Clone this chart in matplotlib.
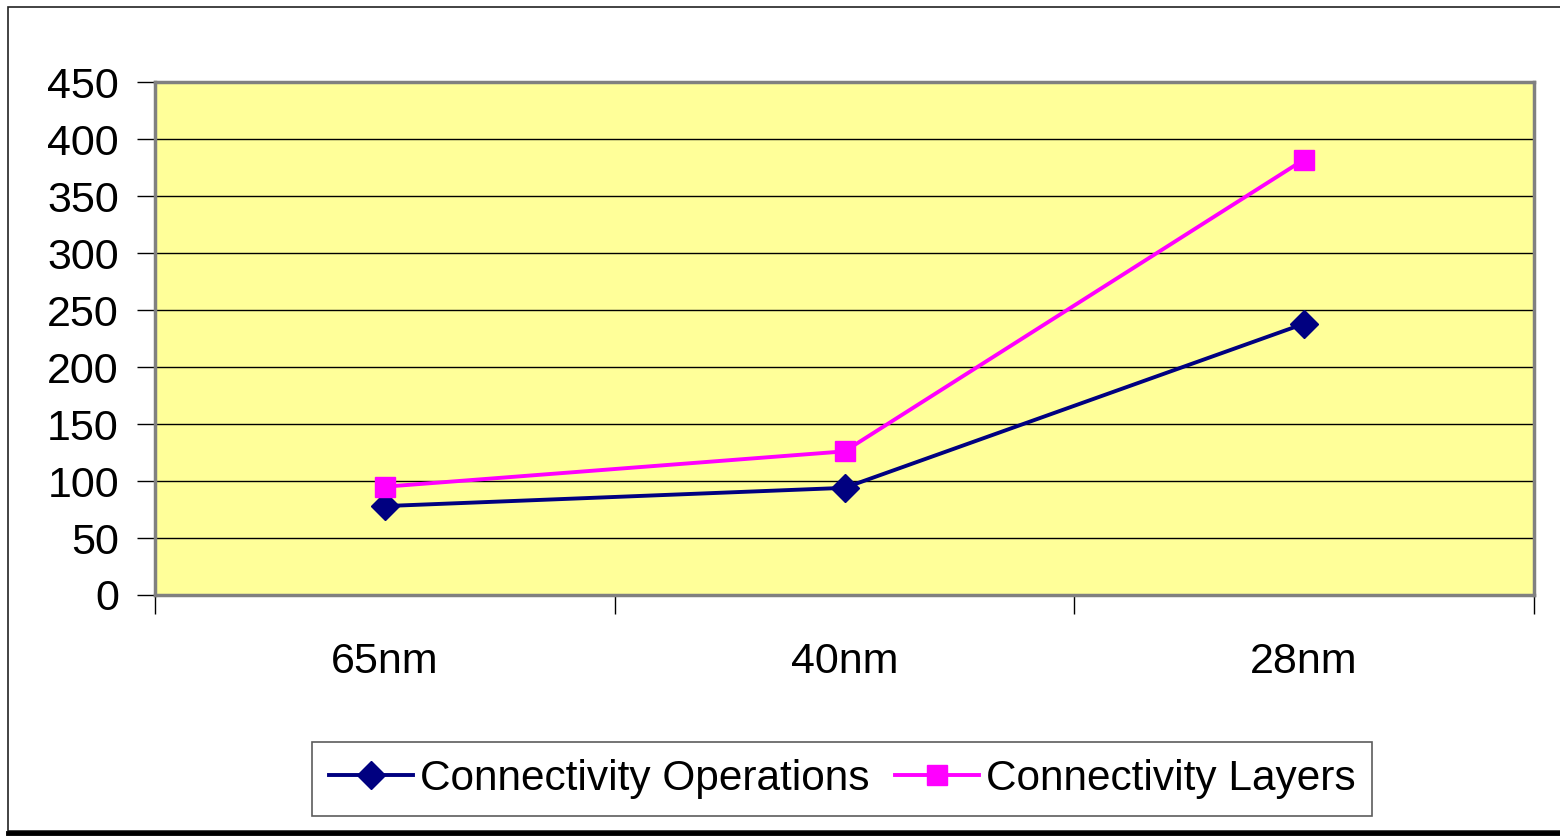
import matplotlib.pyplot as plt
from matplotlib.patches import Rectangle
from matplotlib.lines import Line2D

plt.rcParams['font.family'] = ['Liberation Sans', 'DejaVu Sans']

nodes = ['65nm', '40nm', '28nm']
ops = [78, 94, 238]
layers = [95, 126, 382]
yticks = [0, 50, 100, 150, 200, 250, 300, 350, 400, 450]

fig = plt.figure(figsize=(15.6, 8.36), dpi=100)

# chart frame around everything
fig.add_artist(Rectangle((8 / 1560, 5 / 836), 1.2, 824 / 836, transform=fig.transFigure,
                         fill=False, edgecolor='#222222', linewidth=1.2))
fig.add_artist(Line2D([8 / 1560, 1.0], [3 / 836, 3 / 836], transform=fig.transFigure,
                      color='black', linewidth=3.5))

ax = fig.add_axes([155 / 1560, 1 - 595 / 836, 1379 / 1560, 513 / 836])
ax.set_facecolor('#FFFF99')

x = [0.5, 1.5, 2.5]
ax.plot(x, ops, color='#000080', linewidth=2.8, marker='D', markersize=14,
        label='Connectivity Operations', zorder=3)
ax.plot(x, layers, color='#FF00FF', linewidth=2.8, marker='s', markersize=15,
        label='Connectivity Layers', zorder=3)

ax.set_xlim(0, 3)
ax.set_ylim(0, 450)
ax.set_yticks(yticks)
ax.yaxis.grid(True, color='black', linewidth=1)
ax.set_axisbelow(True)

ax.set_xticks([0, 1, 2, 3])
ax.set_xticklabels([])
ax.set_xticks(x, minor=True)
ax.set_xticklabels(nodes, minor=True)
ax.tick_params(axis='x', which='minor', length=0, pad=34, labelsize=31)
ax.tick_params(axis='x', which='major', length=14, width=1, color='black', direction='out')
ax.tick_params(axis='y', length=13, width=1, color='black', pad=13, labelsize=31)

for s in ax.spines.values():
    s.set_color('#808080')
    s.set_linewidth(2.5)

leg = fig.legend(loc='center', bbox_to_anchor=(842 / 1560, 1 - 779 / 836), ncol=2,
                 fontsize=30.5, frameon=True, fancybox=False, edgecolor='#333333',
                 handlelength=2.0, handletextpad=0.15, columnspacing=0.6,
                 borderpad=0.4)
leg.get_frame().set_linewidth(1.2)

fig.savefig('out.png', dpi=100)
